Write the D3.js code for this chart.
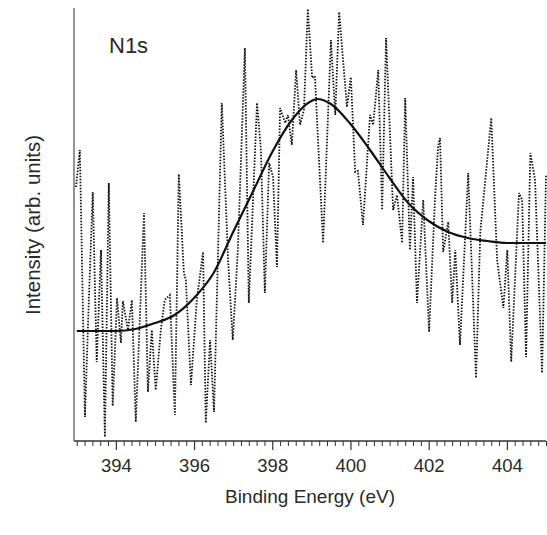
<!DOCTYPE html>
<html>
<head>
<meta charset="utf-8">
<script src="https://cdn.jsdelivr.net/npm/d3@7/dist/d3.min.js"></script>
<style>
    body { margin: 0; background: #fff; }
    text { font-family: "Liberation Sans", Arial, sans-serif; fill: #2a2a2a; }
</style>
</head>
<body>
<svg id="chart" width="547" height="535"></svg>
<script>
// N1s spectrum (binding energy in eV, intensity in arb. units)
var rawEnergy = [
    392.98, 393.08, 393.21, 393.31, 393.41, 393.51, 393.62, 393.72, 393.82, 393.92,
    394.03, 394.13, 394.18, 394.31, 394.41, 394.51, 394.72, 394.82, 394.92, 395.02,
    395.15, 395.25, 395.38, 395.51, 395.61, 395.74, 395.79, 395.92, 396.07, 396.23,
    396.30, 396.41, 396.51, 396.71, 396.87, 396.99, 397.12, 397.30, 397.40, 397.61,
    397.71, 397.81, 397.92, 398.02, 398.12, 398.20, 398.33, 398.40, 398.50, 398.61,
    398.71, 398.81, 398.91, 399.02, 399.09, 399.30, 399.50, 399.61, 399.71, 399.91,
    400.01, 400.12, 400.19, 400.32, 400.50, 400.58, 400.71, 400.81, 400.91, 401.09,
    401.19, 401.32, 401.40, 401.52, 401.60, 401.70, 401.86, 402.01, 402.16, 402.24,
    402.29, 402.37, 402.50, 402.60, 402.68, 402.80, 403.01, 403.21, 403.32, 403.60,
    403.75, 403.91, 404.01, 404.11, 404.31, 404.39, 404.49, 404.60, 404.72, 404.90,
    405.00
];
var rawIntensity = [
    254, 291, 24, 141, 249, 79, 191, 4, 258, 35,
    143, 98, 140, 111, 141, 19, 228, 49, 111, 51,
    111, 141, 146, 26, 267, 168, 161, 56, 141, 189,
    18, 101, 29, 338, 181, 101, 191, 393, 138, 338,
    291, 148, 278, 264, 174, 333, 318, 326, 296, 371,
    316, 331, 432, 363, 365, 198, 401, 326, 429, 334,
    364, 269, 270, 216, 326, 316, 371, 231, 403, 231,
    246, 198, 343, 191, 264, 138, 241, 109, 241, 294,
    303, 189, 219, 138, 191, 96, 268, 63, 209, 323,
    181, 133, 191, 79, 248, 241, 84, 288, 261, 68,
    266
];

// fitted component
var fitEnergy = [393.0, 394.0, 394.5, 395.0, 395.5, 396.0, 396.5, 397.0, 397.5, 398.0,
    398.5, 399.0, 399.15, 399.5, 400.0, 400.5, 401.0, 401.5, 402.0, 402.5,
    403.0, 403.5, 404.0, 405.0];
var fitIntensity = [110, 110, 112, 118, 126, 143, 168, 209, 249, 289,
    321, 340, 342, 337, 317, 291, 263, 237, 220, 209,
    203, 200, 198, 198];

var majorTicks = [394, 396, 398, 400, 402, 404];

var margin = { left: 74, right: 546, top: 8, bottom: 441 };

var svg = d3.select('#chart');

var x = d3.scaleLinear().domain([392.93, 405.0]).range([margin.left, margin.right]);
var y = d3.scaleLinear().domain([0, 433]).range([margin.bottom, margin.top]);

var raw = rawEnergy.map(function(e, i) { return [e, rawIntensity[i]]; });
var fit = fitEnergy.map(function(e, i) { return [e, fitIntensity[i]]; });

// minor ticks every 0.2 eV
var minorTicks = d3.range(393.0, 405.01, 0.2).map(function(v) { return Math.round(v * 10) / 10; })
    .filter(function(v) { return majorTicks.indexOf(v) < 0; });

var minorAxis = d3.axisBottom(x).tickValues(minorTicks).tickSize(5).tickFormat('');
var majorAxis = d3.axisBottom(x).tickValues(majorTicks).tickSize(9).tickPadding(9).tickFormat(d3.format('d'));

svg.append('g')
    .attr('transform', 'translate(0,' + margin.bottom + ')')
    .call(minorAxis)
    .call(function(g) {
        g.select('.domain').remove();
        g.selectAll('line').attr('stroke', '#333').attr('stroke-width', 1);
    });

svg.append('g')
    .attr('transform', 'translate(0,' + margin.bottom + ')')
    .call(majorAxis)
    .call(function(g) {
        g.select('.domain').remove();
        g.selectAll('line').attr('stroke', '#333').attr('stroke-width', 1.2);
        g.selectAll('text').attr('font-size', 18.5).attr('fill', '#2a2a2a')
            .attr('font-family', '"Liberation Sans", Arial, sans-serif');
    });

// axis frame lines
svg.append('line')
    .attr('x1', margin.left).attr('x2', margin.right)
    .attr('y1', margin.bottom).attr('y2', margin.bottom)
    .attr('stroke', '#333').attr('stroke-width', 1.3);
svg.append('line')
    .attr('x1', margin.left).attr('x2', margin.left)
    .attr('y1', margin.top).attr('y2', margin.bottom)
    .attr('stroke', '#666').attr('stroke-width', 1.4);

var line = d3.line()
    .x(function(d) { return x(d[0]); })
    .y(function(d) { return y(d[1]); });

// measured data, dotted
svg.append('path')
    .datum(raw)
    .attr('d', line)
    .attr('fill', 'none')
    .attr('stroke', '#111')
    .attr('stroke-width', 1.8)
    .attr('stroke-dasharray', '1.5,1.5');

// fit, solid
svg.append('path')
    .datum(fit)
    .attr('d', line.curve(d3.curveMonotoneX))
    .attr('fill', 'none')
    .attr('stroke', '#111')
    .attr('stroke-width', 2.2);

// labels
svg.append('text')
    .attr('x', 109).attr('y', 53)
    .attr('font-size', 22)
    .text('N1s');

svg.append('text')
    .attr('x', 310).attr('y', 503)
    .attr('text-anchor', 'middle')
    .attr('font-size', 19)
    .text('Binding Energy (eV)');

svg.append('text')
    .attr('transform', 'translate(40,225) rotate(-90)')
    .attr('text-anchor', 'middle')
    .attr('font-size', 20.5)
    .text('Intensity (arb. units)');
</script>
</body>
</html>
